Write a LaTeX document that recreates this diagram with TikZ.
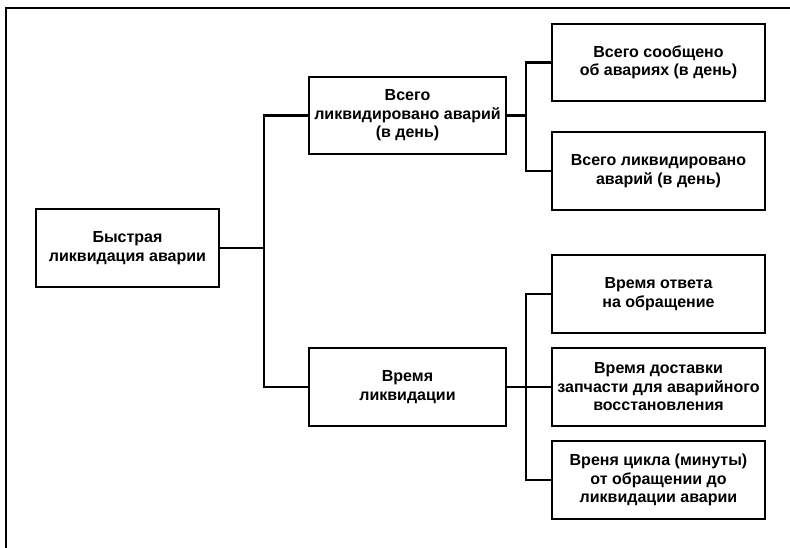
\documentclass[tikz,border=0pt]{standalone}
\usepackage{fontspec}
\setmainfont{Liberation Sans}
\tikzset{
  box/.style={draw, line width=2.6pt, rectangle, align=center,
    font=\fontsize{16}{18.5}\selectfont\bfseries, inner sep=2pt},
  link/.style={line width=2.6pt}
}
\begin{document}
\begin{tikzpicture}[x=1pt,y=-1pt]
\useasboundingbox (0,0) rectangle (790,547);
%outer frame

\draw [line width=2.2pt] (6,560) -- (6,8) -- (800,8);

%boxes of the tree

\node [box, minimum width=183pt, minimum height=78pt] (root) at (127.5,248) {Быстрая\\ликвидация аварии};
\node [box, minimum width=197pt, minimum height=77pt] (total) at (407.5,115.5) {Всего\\ликвидировано аварий\\(в день)};
\node [box, minimum width=197pt, minimum height=78pt] (time) at (407.5,387) {Время\\ликвидации};
\node [box, minimum width=213pt, minimum height=77pt] (reported) at (658.5,62.5) {Всего сообщено\\об авариях (в день)};
\node [box, minimum width=213pt, minimum height=78pt] (fixed) at (658.5,171) {Всего ликвидировано\\аварий (в день)};
\node [box, minimum width=213pt, minimum height=78pt] (answer) at (658.5,294) {Время ответа\\на обращение};
\node [box, minimum width=213pt, minimum height=78pt] (parts) at (658.5,387) {Время доставки\\запчасти для аварийного\\восстановления};
\node [box, minimum width=213pt, minimum height=78pt] (cycle) at (658.5,480) {Вреня цикла (минуты)\\от обращении до\\ликвидации аварии};

%bus lines

\coordinate (busA) at (264,0);
\coordinate (busB) at (526,0);

%connectors

\draw [link] (root.east) -- (root.east -| busA) |- (total.west);
\draw [link] (root.east -| busA) |- (time.west);
\draw [link] (total.east) -- (total.east -| busB) |- (reported.west);
\draw [link] (total.east -| busB) |- (fixed.west);
\draw [link] (time.east) -- (time.east -| busB) |- (answer.west);
\draw [link] (time.east -| busB) |- (parts.west);
\draw [link] (time.east -| busB) |- (cycle.west);
\end{tikzpicture}
\end{document}
